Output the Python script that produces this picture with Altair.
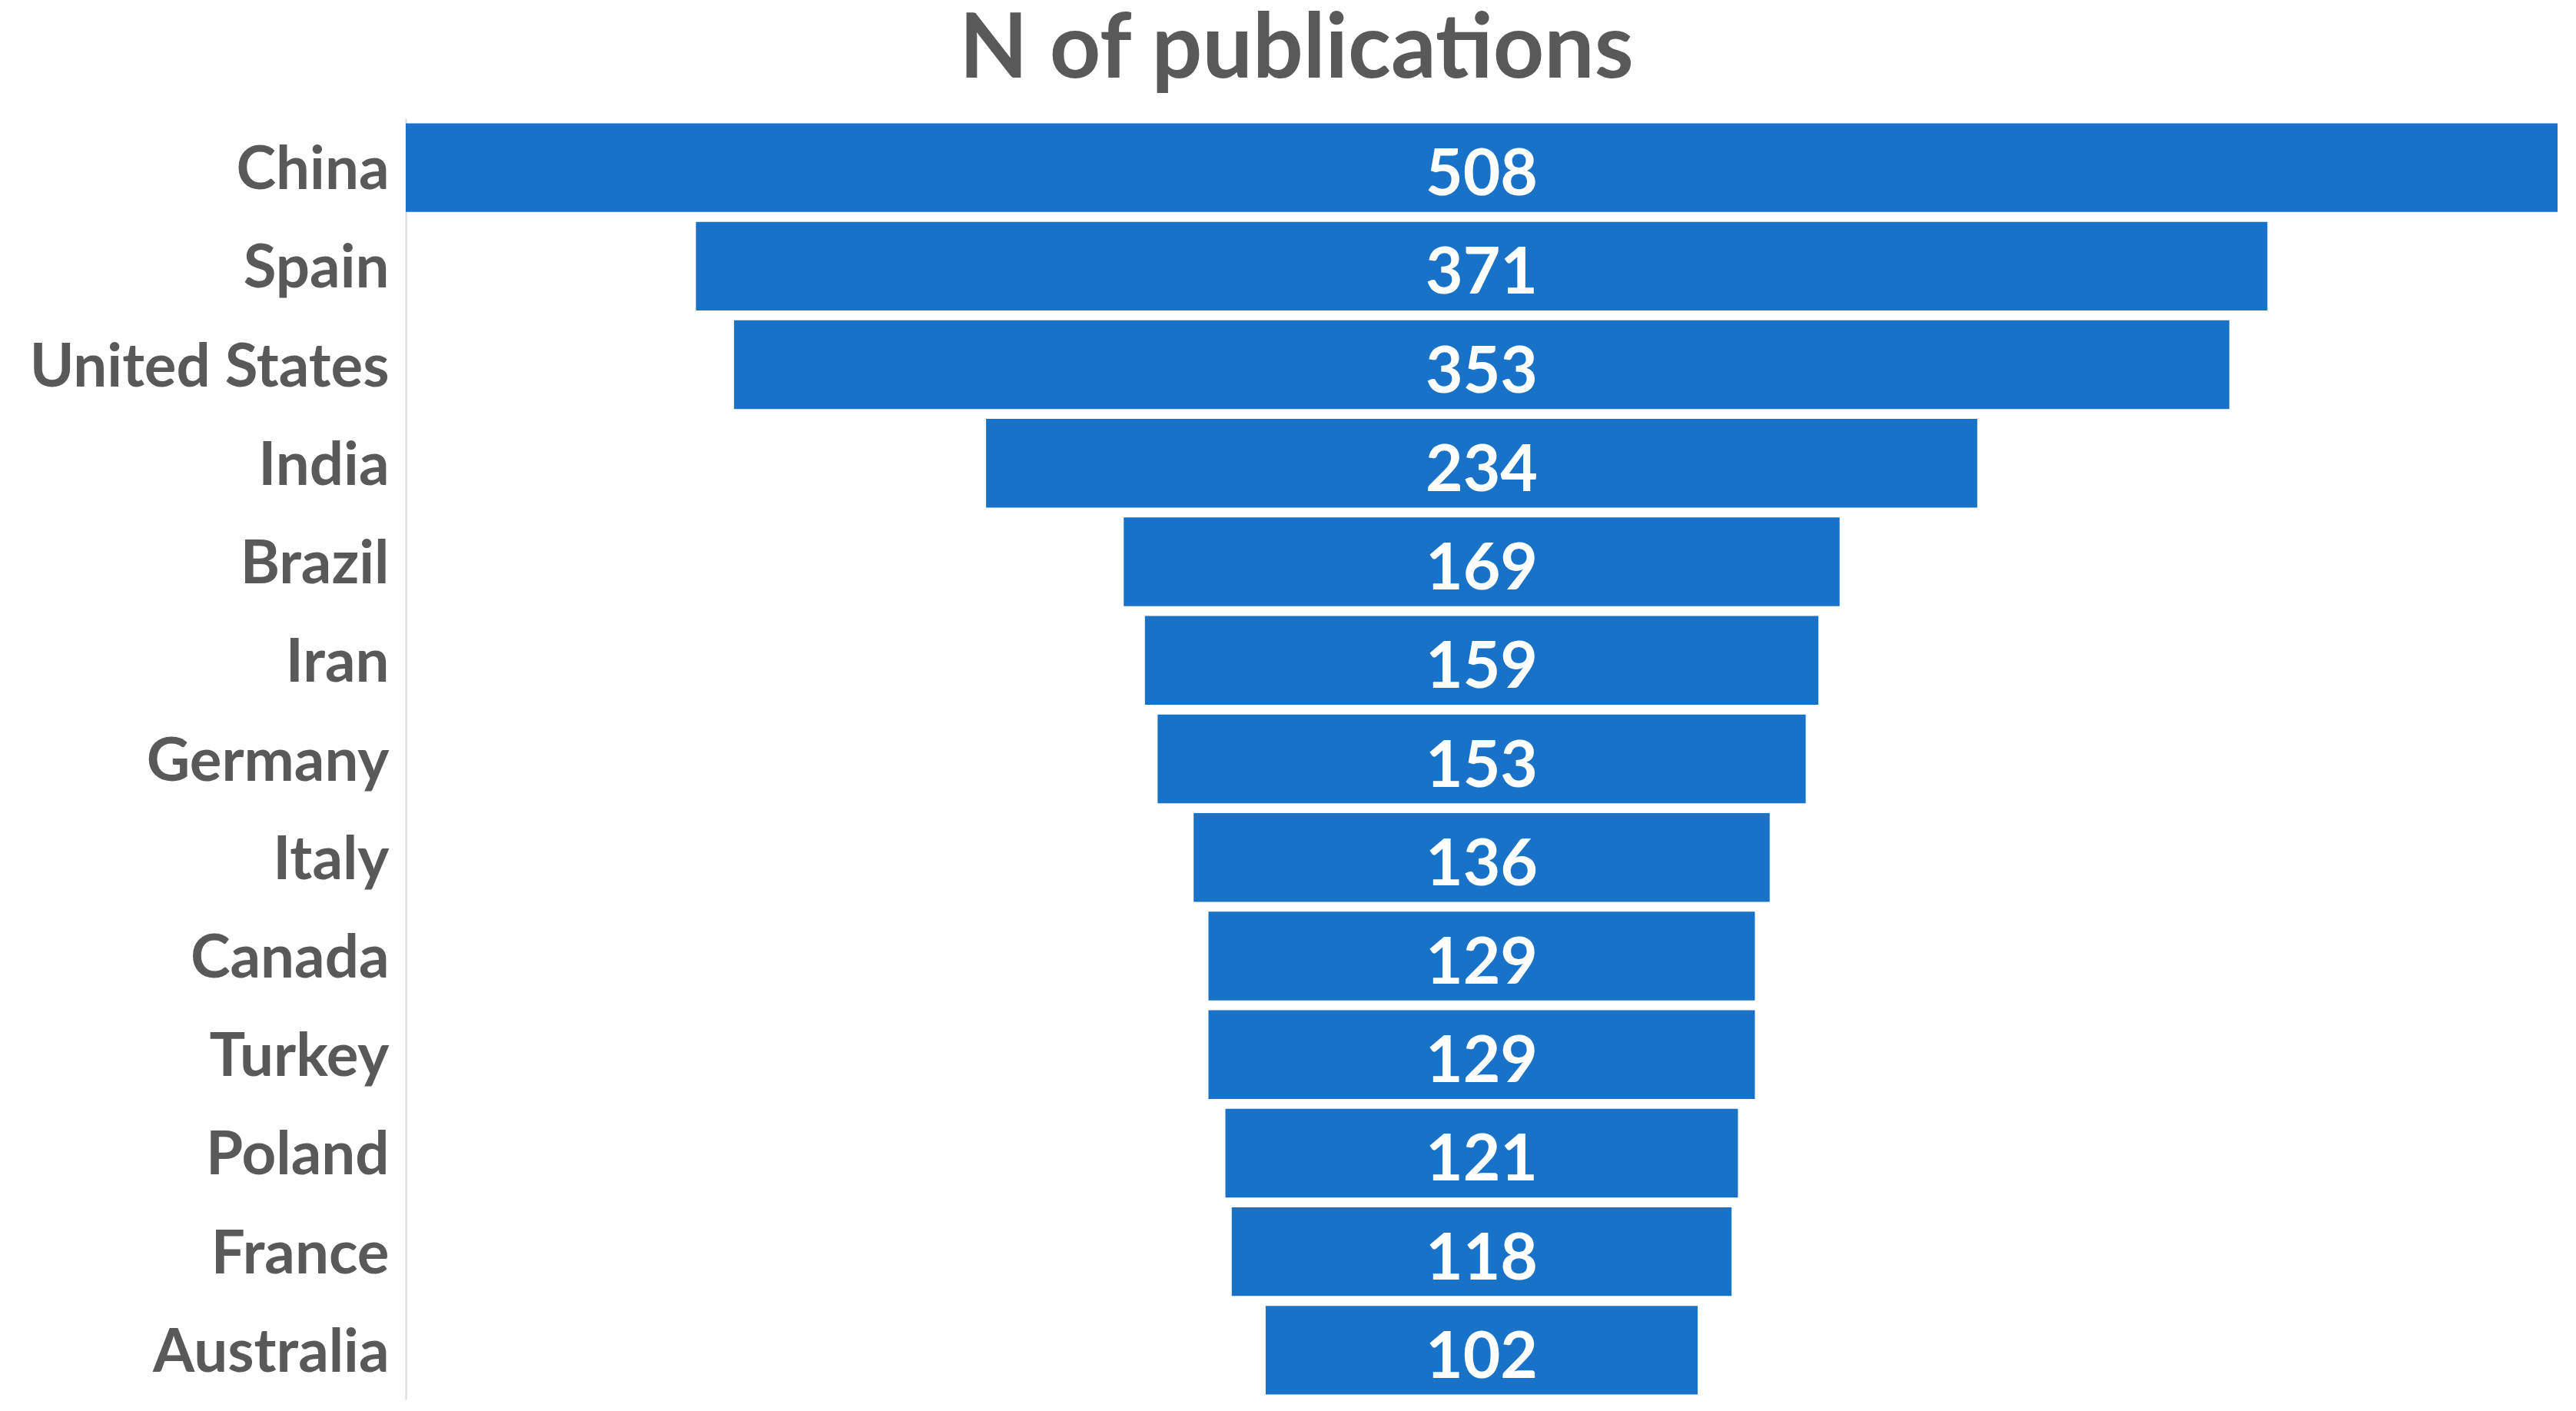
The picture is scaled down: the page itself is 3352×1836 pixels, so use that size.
import altair as alt
import pandas as pd

countries = ["China", "Spain", "United States", "India", "Brazil", "Iran", "Germany",
             "Italy", "Canada", "Turkey", "Poland", "France", "Australia"]
publications = [508, 371, 353, 234, 169, 159, 153, 136, 129, 129, 121, 118, 102]

df = pd.DataFrame({"country": countries, "n": publications})

BLUE = "#1872C8"
GREY = "#595959"
FONT = "Lato"

y_enc = alt.Y(
    "country:N",
    sort=countries,
    scale=alt.Scale(paddingInner=0.1, paddingOuter=0.05),
    axis=alt.Axis(
        title=None, ticks=False, grid=False, labelPadding=22, labelLimit=0, labelOffset=5,
        labelFont=FONT, labelFontSize=78, labelFontWeight="bold", labelColor=GREY,
        domainColor="#D9D9D9", domainWidth=2,
    ),
)

x_scale = alt.Scale(domain=[-254, 254], nice=False, zero=False)

base = alt.Chart(df).transform_calculate(
    left="-datum.n / 2", right="datum.n / 2", zero="0"
)

bars = base.mark_bar(color=BLUE).encode(
    y=y_enc,
    x=alt.X("left:Q", scale=x_scale, axis=None),
    x2="right:Q",
)

labels = base.mark_text(
    color="white", font=FONT, fontSize=84, fontWeight="bold", baseline="middle", dy=11
).encode(
    y=alt.Y("country:N", sort=countries),
    x=alt.X("zero:Q", scale=x_scale, axis=None),
    text=alt.Text("n:Q"),
)

chart = alt.layer(bars, labels).properties(
    width=2800,
    height=1667,
    title=alt.TitleParams(
        "N of publications", font=FONT, fontSize=116, fontWeight="bold", color=GREY,
        anchor="middle", baseline="alphabetic", offset=-63, dx=-241,
    ),
    autosize=alt.AutoSizeParams(type="none"),
    padding={"left": 520, "top": 146, "right": 16, "bottom": 7},
).configure(background="white").configure_view(strokeWidth=0, stroke="transparent")

chart.save("out.html", embed_options={"renderer": "svg", "actions": False})
